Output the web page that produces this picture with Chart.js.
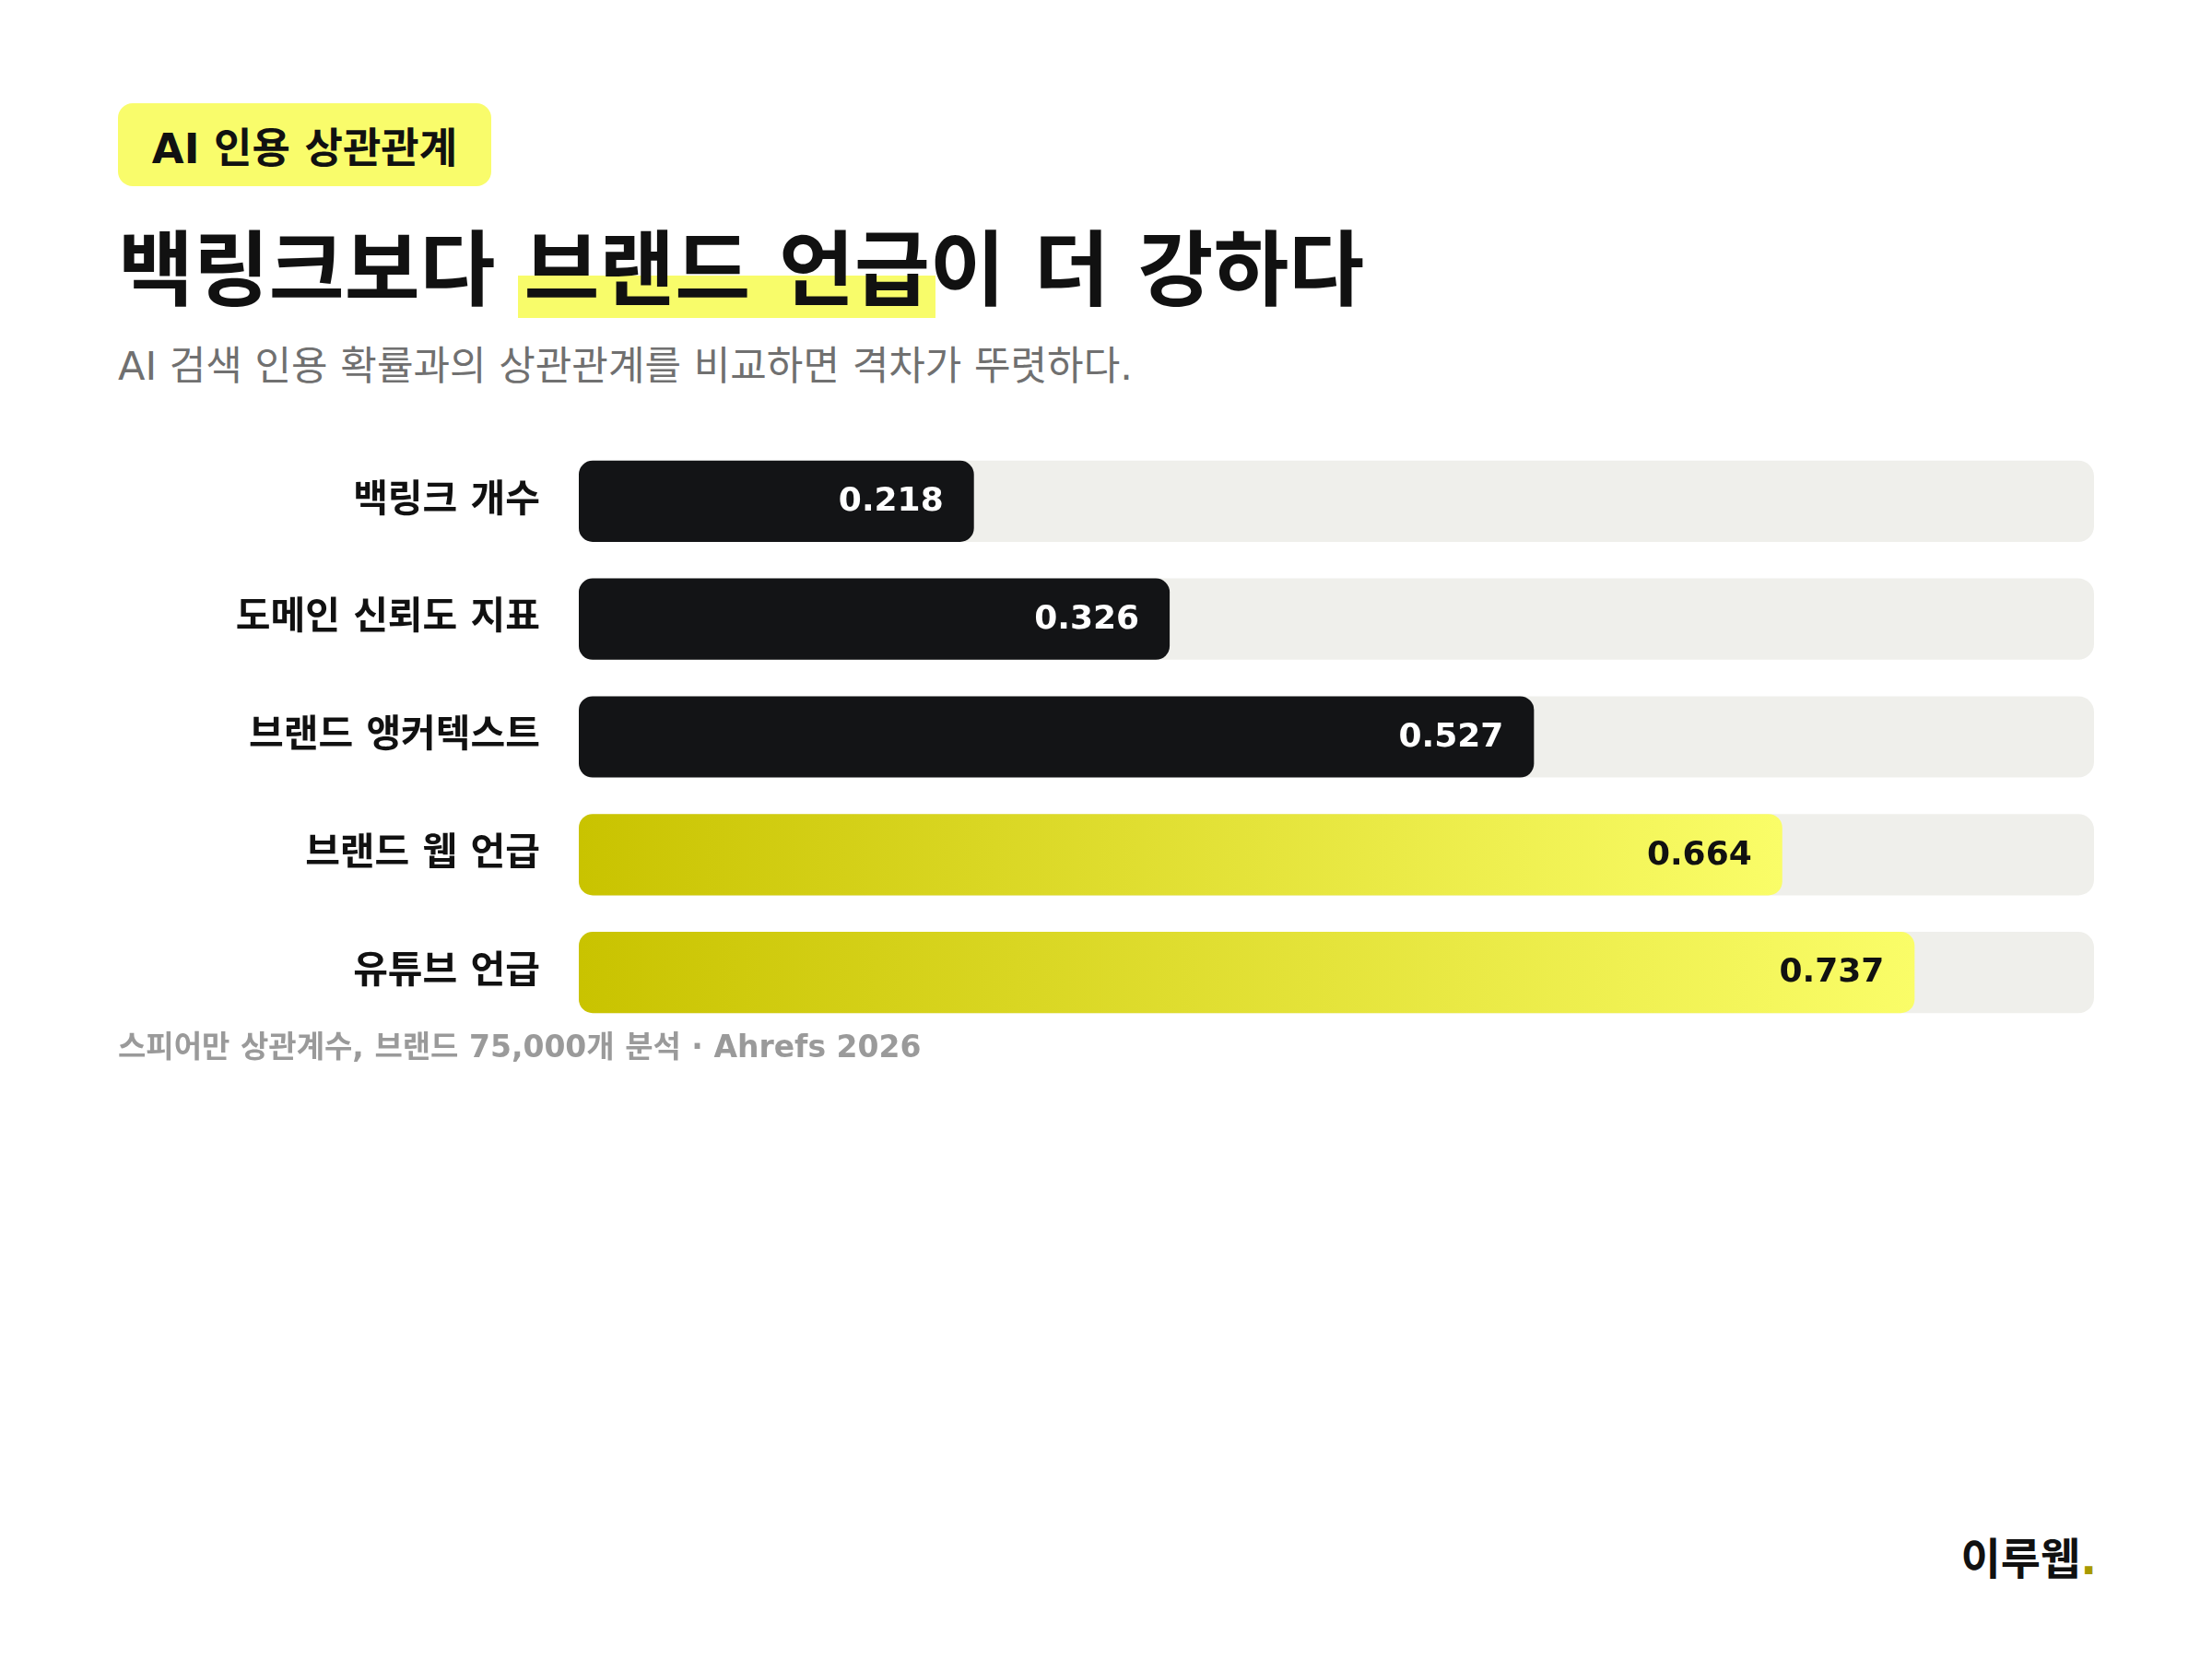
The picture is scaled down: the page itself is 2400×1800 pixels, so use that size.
<!DOCTYPE html>
<html lang="ko">
<head>
<meta charset="utf-8">
<script src="https://cdn.jsdelivr.net/npm/chart.js@4.4.1/dist/chart.umd.min.js"></script>
<style>
  html, body { margin: 0; padding: 0; background: #ffffff; }
  body { width: 2400px; height: 1800px; position: relative; overflow: hidden;
         font-family: 'DejaVu Sans', 'Noto Sans CJK KR', sans-serif; }
  .badge { position: absolute; left: 128px; top: 112px; width: 405px; height: 90px;
           background: #f9fc6b; border-radius: 16px; display: flex; align-items: center;
           justify-content: center; font-size: 45px; font-weight: 700; color: #111; }
  .title { position: absolute; left: 128px; top: 240px; font-size: 89px; font-weight: 700;
           color: #111; line-height: 1.2; white-space: nowrap; }
  .title .hl { background: linear-gradient(180deg, transparent 56%, #f8fc6a 56%);
               padding: 0 6px; margin: 0 -6px 0 -6px; }
  .sub { position: absolute; left: 128px; top: 372px; font-size: 43px; color: #707070;
         line-height: 1.2; white-space: nowrap; }
  .chartbox { position: absolute; left: 0; top: 480px; width: 2272px; height: 639px; }
  .note { position: absolute; left: 128px; top: 1116px; font-size: 33px; font-weight: 700;
          color: #9a9a9a; line-height: 1.2; white-space: nowrap; }
  .logo { position: absolute; right: 125px; top: 1664px; font-size: 47px; font-weight: 700;
          color: #111; line-height: 1.2; }
  .logo .dot { color: #a89a00; }
</style>
</head>
<body>
  <div class="badge">AI 인용 상관관계</div>
  <div class="title">백링크보다 <span class="hl">브랜드 언급</span>이 더 강하다</div>
  <div class="sub">AI 검색 인용 확률과의 상관관계를 비교하면 격차가 뚜렷하다.</div>
  <div class="chartbox"><canvas id="c"></canvas></div>
  <div class="note">스피어만 상관계수, 브랜드 75,000개 분석 · Ahrefs 2026</div>
  <div class="logo">이루웹<span class="dot">.</span></div>
<script>
// ---- data ----
const categories = ['백링크 개수', '도메인 신뢰도 지표', '브랜드 앵커텍스트', '브랜드 웹 언급', '유튜브 언급'];
const correlations = [0.218, 0.326, 0.527, 0.664, 0.737];
const highlight = [0, 0, 0, 1, 1];
const axisMax = 0.836;
const trackValues = categories.map(() => axisMax);

const FONT = "'DejaVu Sans', 'Noto Sans CJK KR', sans-serif";
const DARK = '#131416';

const valueLabels = {
  id: 'valueLabels',
  afterDatasetsDraw(chart) {
    const meta = chart.getDatasetMeta(1);
    const ctx = chart.ctx;
    ctx.save();
    ctx.font = 'bold 36px ' + FONT;
    ctx.textAlign = 'right';
    ctx.textBaseline = 'middle';
    meta.data.forEach((el, i) => {
      ctx.fillStyle = highlight[i] ? '#111111' : '#ffffff';
      ctx.fillText(correlations[i].toFixed(3), el.x - 33, el.y + 1);
    });
    ctx.restore();
  }
};

new Chart(document.getElementById('c'), {
  type: 'bar',
  data: {
    labels: categories,
    datasets: [
      {
        label: 'track',
        data: trackValues,
        backgroundColor: '#efefeb',
        borderRadius: 17,
        borderSkipped: false,
        categoryPercentage: 1,
        barPercentage: 0.69,
        grouped: false,
        order: 2
      },
      {
        label: '상관계수',
        data: correlations,
        backgroundColor: (c) => {
          if (c.type !== 'data' || !highlight[c.dataIndex]) return DARK;
          const chart = c.chart;
          const xs = chart.scales.x;
          if (!xs || !chart.chartArea) return '#dcd82a';
          const x0 = xs.getPixelForValue(0);
          const x1 = xs.getPixelForValue(correlations[c.dataIndex]);
          const g = chart.ctx.createLinearGradient(x0, 0, x1, 0);
          g.addColorStop(0, '#c9c300');
          g.addColorStop(1, '#fafd68');
          return g;
        },
        borderRadius: 15,
        borderSkipped: false,
        categoryPercentage: 1,
        barPercentage: 0.69,
        grouped: false,
        order: 1
      }
    ]
  },
  options: {
    indexAxis: 'y',
    responsive: true,
    maintainAspectRatio: false,
    animation: false,
    layout: { padding: 0 },
    plugins: { legend: { display: false }, tooltip: { enabled: false } },
    scales: {
      x: { display: false, min: 0, max: axisMax },
      y: {
        grid: { display: false, drawTicks: false },
        border: { display: false },
        afterFit: (axis) => { axis.width = 628; axis.paddingTop = 0; axis.paddingBottom = 0; },
        ticks: {
          padding: 42,
          color: '#111111',
          font: { family: FONT, size: 41, weight: 'bold' }
        }
      }
    }
  },
  plugins: [valueLabels]
});
</script>
</body>
</html>
